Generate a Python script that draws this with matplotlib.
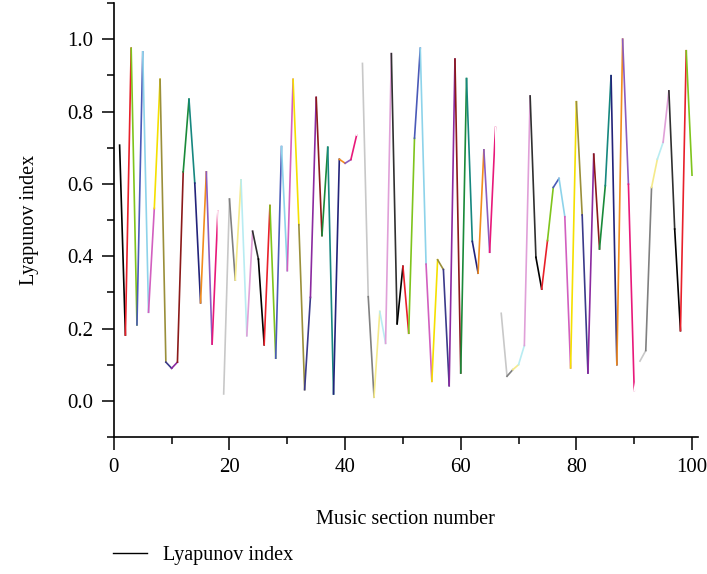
import matplotlib.pyplot as plt
from matplotlib.lines import Line2D
from matplotlib.ticker import MultipleLocator

# Lyapunov index per music section
section = list(range(1, 101))
lyapunov = [
    0.707, 0.182, 0.975, 0.210, 0.965, 0.245, 0.532, 0.889, 0.107, 0.090,
    0.107, 0.633, 0.834, 0.602, 0.271, 0.633, 0.157, 0.525, 0.019, 0.558,
    0.334, 0.611, 0.180, 0.469, 0.392, 0.155, 0.540, 0.118, 0.703, 0.360,
    0.889, 0.487, 0.031, 0.286, 0.839, 0.457, 0.701, 0.019, 0.668, 0.657,
    0.667, 0.735, 0.933, 0.288, 0.010, 0.247, 0.159, 0.960, 0.213, 0.372,
    0.187, 0.726, 0.975, 0.378, 0.054, 0.390, 0.363, 0.042, 0.945, 0.077,
    0.891, 0.441, 0.353, 0.694, 0.411, 0.756, 0.242, 0.068, 0.086, 0.100,
    0.153, 0.843, 0.397, 0.309, 0.443, 0.590, 0.615, 0.509, 0.091, 0.827,
    0.514, 0.077, 0.682, 0.420, 0.595, 0.899, 0.100, 1.000, 0.599, 0.029,
    0.110, 0.139, 0.590, 0.668, 0.715, 0.857, 0.475, 0.194, 0.968, 0.624,
]

# colour cycle used for consecutive segments
seg_colors = [
    '#000000', '#e8202a', '#7fc41c', '#4a5ab8', '#8dd3ea', '#d25fbf',
    '#f5e000', '#9a8f3a', '#3b3a8a', '#8b2aa0', '#8b1a1a', '#1a8a3a',
    '#16877f', '#23237a', '#f28c1e', '#8a5cc0', '#e8197a', '#ffffff',
    '#c8c8c8', '#808080', '#f5ea8a', '#b8ecf2', '#e0a0d8', '#303030',
]

plt.rcParams['font.family'] = ['Liberation Serif', 'DejaVu Serif']

fig = plt.figure(figsize=(7.07, 5.74), dpi=100)
ax = fig.add_axes([0.161, 0.2387, 0.826, 0.756])

for i in range(len(section) - 1):
    ax.plot(section[i:i + 2], lyapunov[i:i + 2],
            color=seg_colors[i % len(seg_colors)], lw=1.2)

ax.set_xlim(0, 101)
ax.set_ylim(-0.1, 1.1)
ax.xaxis.set_major_locator(MultipleLocator(20))
ax.xaxis.set_minor_locator(MultipleLocator(10))
ax.yaxis.set_major_locator(MultipleLocator(0.2))
ax.yaxis.set_minor_locator(MultipleLocator(0.1))
ax.set_yticks([0.0, 0.2, 0.4, 0.6, 0.8, 1.0])
ax.set_yticklabels(['0.0', '0.2', '0.4', '0.6', '0.8', '1.0'])

for side in ['top', 'right']:
    ax.spines[side].set_visible(False)
for side in ['left', 'bottom']:
    ax.spines[side].set_linewidth(1.2)

ax.tick_params(which='major', direction='out', length=9, width=1.1,
               labelsize=15, pad=6)
ax.tick_params(which='minor', direction='out', length=5, width=1.1)

ax.set_xlabel('Music section number', fontsize=14.5, labelpad=24)
ax.set_ylabel('Lyapunov index', fontsize=14.5, labelpad=20)

handle = Line2D([], [], color='black', lw=1.0)
fig.legend([handle], ['Lyapunov index'], loc='center left',
           bbox_to_anchor=(0.134, 0.033), frameon=False, fontsize=14.5,
           handlelength=1.7, handletextpad=0.8)

fig.savefig('out.png', dpi=100)
